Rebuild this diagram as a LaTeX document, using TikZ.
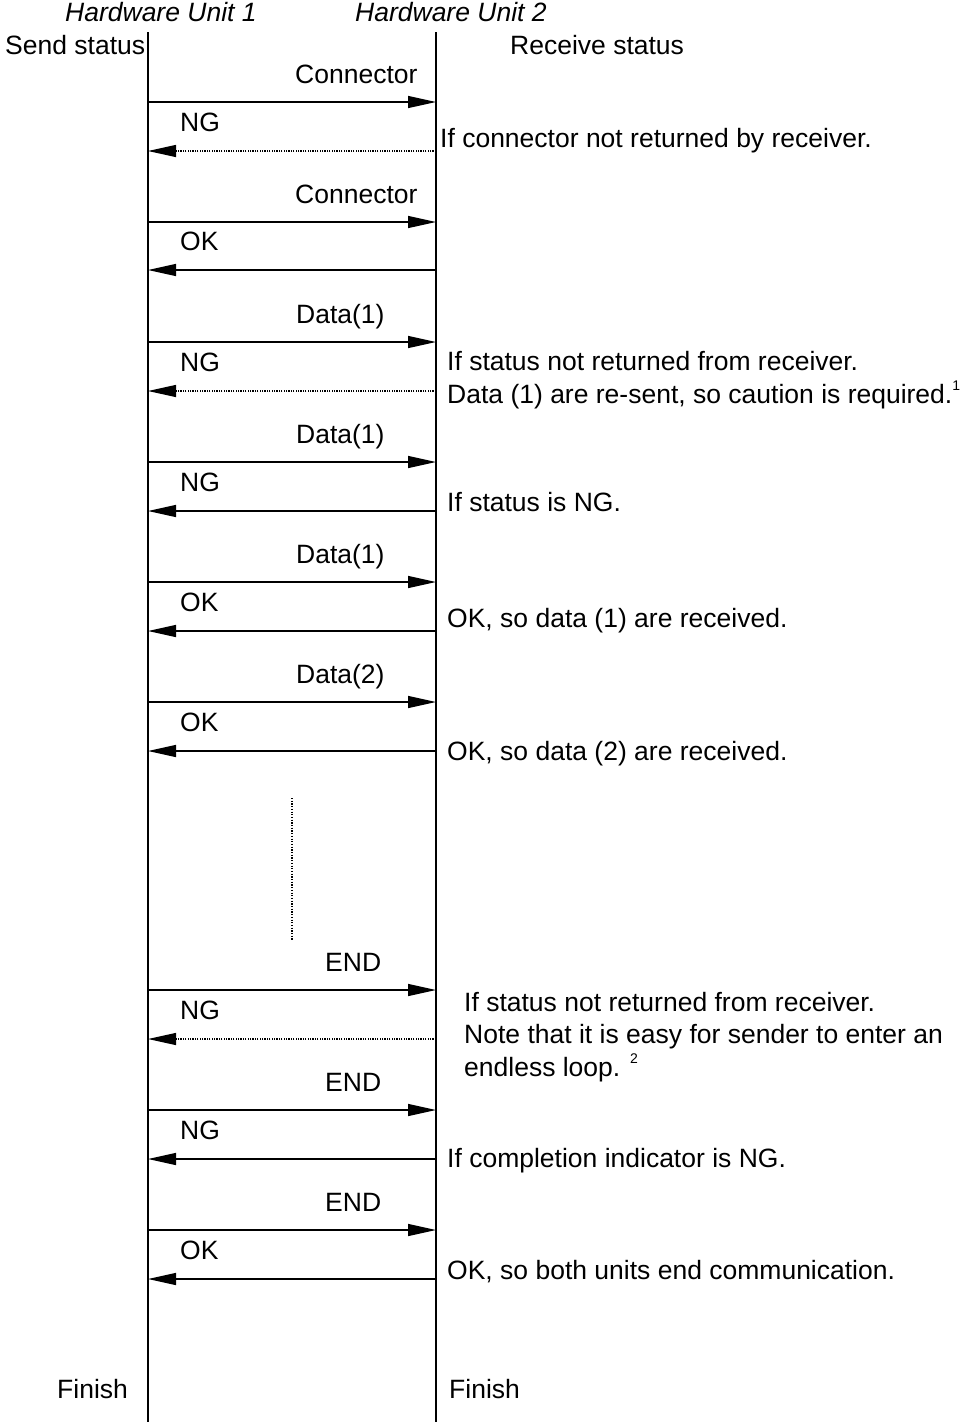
\documentclass[tikz,border=0pt]{standalone}
\usepackage{fontspec}
\setmainfont{Liberation Sans}
\usetikzlibrary{arrows.meta}
\begin{document}
\begin{tikzpicture}[x=1pt,y=-1pt,
  lbl/.style={anchor=base west,inner sep=0pt,font=\fontsize{26.5}{30}\selectfont},
  life/.style={line width=1.3pt},
  msg/.style={line width=1.3pt,-{Triangle[length=28pt,width=12pt]}},
  msgdot/.style={line width=1.2pt,dash pattern=on 1.2pt off 1.2pt,-{Triangle[length=28pt,width=12pt]}},
]
\useasboundingbox (0,0) rectangle (962,1422);
% headers
\node[lbl,font=\fontsize{26.5}{30}\selectfont\itshape] (h1) at (65,21) {Hardware Unit 1};
\node[lbl,font=\fontsize{26.5}{30}\selectfont\itshape] (h2) at (355,21) {Hardware Unit 2};
\node[lbl] (ss) at (5,54) {Send status};
\node[lbl] (rs) at (510,54) {Receive status};
% lifelines
\coordinate (Lt) at (148,32); \coordinate (Lb) at (148,1422);
\coordinate (Rt) at (436,32); \coordinate (Rb) at (436,1422);
\draw[life] (Lt) -- (Lb);
\draw[life] (Rt) -- (Rb);
% forward messages
\foreach \y/\t/\x in {102/Connector/295,222/Connector/295,342/Data(1)/296,462/Data(1)/296,582/Data(1)/296,702/Data(2)/296,990/END/325,1110/END/325,1230/END/325}{
  \draw[msg] (148,\y) -- (436,\y);
  \node[lbl] at (\x,\y-19) {\t};
}
% solid replies
\foreach \y/\t in {270/OK,511/NG,631/OK,751/OK,1159/NG,1279/OK}{
  \draw[msg] (436,\y) -- (148,\y);
  \node[lbl] at (180,\y-20) {\t};
}
% dotted replies
\foreach \y/\t in {151/NG,391/NG,1039/NG}{
  \draw[msgdot] (436,\y) -- (148,\y);
  \node[lbl] at (180,\y-20) {\t};
}
% vertical ellipsis
\draw[line width=1.2pt,dash pattern=on 1.2pt off 1.5pt] (292,798) -- (292,940);
% comments
\node[lbl] (c1) at (440,147) {If connector not returned by receiver.};
\node[lbl] (c2) at (447,370) {If status not returned from receiver.};
\node[lbl] (c3) at (447,403) {Data (1) are re-sent, so caution is required.\raisebox{13pt}{\fontsize{14}{16}\selectfont 1}};
\node[lbl] (c4) at (447,511) {If status is NG.};
\node[lbl] (c5) at (447,627) {OK, so data (1) are received.};
\node[lbl] (c6) at (447,760) {OK, so data (2) are received.};
\node[lbl] (c7) at (464,1011) {If status not returned from receiver.};
\node[lbl] (c8) at (464,1043) {Note that it is easy for sender to enter an};
\node[lbl] (c9) at (464,1076) {endless loop. \raisebox{13pt}{\fontsize{14}{16}\selectfont 2}};
\node[lbl] (c10) at (447,1167) {If completion indicator is NG.};
\node[lbl] (c11) at (447,1279) {OK, so both units end communication.};
\node[lbl] (f1) at (57,1398) {Finish};
\node[lbl] (f2) at (449,1398) {Finish};
\end{tikzpicture}
\end{document}
